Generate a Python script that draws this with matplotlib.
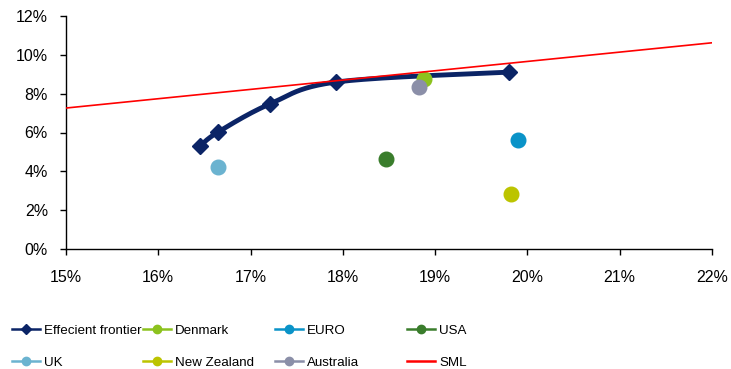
import numpy as np
import matplotlib
matplotlib.use("Agg")
import matplotlib.pyplot as plt
from matplotlib.lines import Line2D
from matplotlib.ticker import FuncFormatter
from matplotlib import font_manager

plt.rcParams['font.family'] = ['Liberation Sans', 'DejaVu Sans']

# Data (risk %, return %)
frontier_risk = [16.45, 16.65, 17.21, 17.93, 19.80]
frontier_ret = [5.30, 6.03, 7.47, 8.60, 9.11]

countries = ["Denmark", "EURO", "USA", "UK", "New Zealand", "Australia"]
country_risk = [18.88, 19.90, 18.47, 16.65, 19.82, 18.83]
country_ret = [8.75, 5.60, 4.63, 4.22, 2.83, 8.34]
country_colors = ["#8CC21E", "#0A93C8", "#3A7D2C", "#6BB3D0", "#BCC400", "#8B8FA8"]

sml_risk = [15.0, 22.0]
sml_ret = [7.26, 10.62]

frontier_color = "#0B2466"


def bezier_smooth(x, y, n=40):
    x = np.asarray(x, float); y = np.asarray(y, float)
    P = np.column_stack([x, y])
    out = []
    for i in range(len(P) - 1):
        p0 = P[i - 1] if i > 0 else P[i]
        p1 = P[i]
        p2 = P[i + 1]
        p3 = P[i + 2] if i + 2 < len(P) else P[i + 1]
        c1 = p1 + (p2 - p0) / 6.0
        c2 = p2 - (p3 - p1) / 6.0
        t = np.linspace(0, 1, n)[:, None]
        seg = ((1 - t) ** 3) * p1 + 3 * ((1 - t) ** 2) * t * c1 + 3 * (1 - t) * t ** 2 * c2 + t ** 3 * p2
        out.append(seg if i == 0 else seg[1:])
    s = np.vstack(out)
    return s[:, 0], s[:, 1]


fig = plt.figure(figsize=(7.31, 3.69), dpi=100)
ax = fig.add_axes([66 / 731, 1 - 249 / 369, (712 - 66) / 731, (249 - 16) / 369])

sx, sy = bezier_smooth(frontier_risk, frontier_ret)
ax.plot(sx, sy, color=frontier_color, lw=3.5, zorder=3, solid_capstyle='round')
ax.plot(frontier_risk, frontier_ret, ls='none', marker='D', ms=8.5, color=frontier_color, zorder=4)

for r, m, c in zip(country_risk, country_ret, country_colors):
    ax.plot([r], [m], ls='none', marker='o', ms=10.5, color=c, zorder=5)

ax.plot(sml_risk, sml_ret, color='#FF0000', lw=1.2, zorder=6)

ax.set_xlim(15, 22)
ax.set_ylim(0, 12)
ax.set_xticks(np.arange(15, 23, 1))
ax.set_yticks(np.arange(0, 13, 2))
ax.xaxis.set_major_formatter(FuncFormatter(lambda v, p: f"{v:.0f}%"))
ax.yaxis.set_major_formatter(FuncFormatter(lambda v, p: f"{v:.0f}%"))
for s in ['top', 'right']:
    ax.spines[s].set_visible(False)
for s in ['left', 'bottom']:
    ax.spines[s].set_linewidth(1.0)
    ax.spines[s].set_color('#000000')
ax.tick_params(axis='both', direction='out', length=4, width=1, labelsize=11.5, colors='black')
ax.tick_params(axis='x', pad=11)
ax.tick_params(axis='y', pad=9)

leg_size = 9.6
leg_font = font_manager.FontProperties(family=['Liberation Sans', 'DejaVu Sans'], size=leg_size)
em = leg_size * 100 / 72

def h(color, marker=None, ms=6):
    return Line2D([0], [0], color=color, lw=1.8, marker=marker, ms=ms)

cols = [
    [(h(frontier_color, 'D', 5), "Effecient frontier"), (h(country_colors[3], 'o', 6), "UK")],
    [(h(country_colors[0], 'o', 6), "Denmark"), (h(country_colors[4], 'o', 6), "New Zealand")],
    [(h(country_colors[1], 'o', 6), "EURO"), (h(country_colors[5], 'o', 6), "Australia")],
    [(h(country_colors[2], 'o', 6), "USA"), (h('#FF0000', None), "SML")],
]
col_x = [12, 143, 275, 407]
for xpx, entries in zip(col_x, cols):
    fig.legend([e[0] for e in entries], [e[1] for e in entries],
               loc='center left', bbox_to_anchor=(xpx / 731, 1 - 346.5 / 369),
               frameon=False, borderpad=0, borderaxespad=0,
               handlelength=28 / em,
               handletextpad=4 / em,
               labelspacing=1.45,
               prop=leg_font)

fig.savefig("out.png", dpi=100)
